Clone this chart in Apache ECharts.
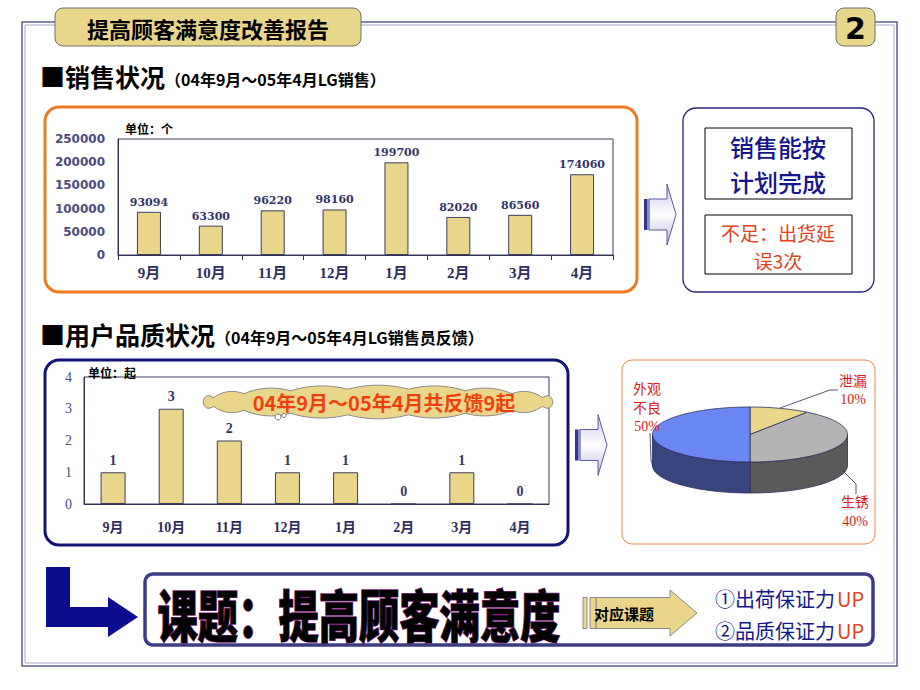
<!DOCTYPE html>
<html><head><meta charset="utf-8">
<script src="https://cdn.jsdelivr.net/npm/echarts@6/dist/echarts.min.js"></script>
<style>html,body{margin:0;padding:0;background:#fff;}#c{width:920px;height:690px;}</style>
</head><body><div id="c"></div>
<script>
// ---- data ----
const months = ['9月','10月','11月','12月','1月','2月','3月','4月'];
const salesValues = [93094, 63300, 96220, 98160, 199700, 82020, 86560, 174060];
const salesAxisMax = 250000, salesAxisStep = 50000;
const qualityValues = [1, 3, 2, 1, 1, 0, 1, 0];
const qualityAxisMax = 4, qualityAxisStep = 1;
const pieNames = ['泄漏', '生锈', '外观不良'];
const pieValues = [10, 40, 50];
const pieLabelText = ['泄漏\n10%', '生锈\n40%', '外观\n不良\n50%'];

// ---- styles ----
const CJK = '"Noto Sans CJK SC", sans-serif';
const SERIF = '"DejaVu Serif", "Noto Sans CJK SC", serif';
const TSERIF = '"Liberation Serif", "Noto Sans CJK SC", serif';
const barFill = '#ead68b', barEdge = '#3c3c5e';
const topColors = ['#ebd78c', '#b4b4b4', '#6b87f4'];
const sideColors = ['#c9b56a', '#5a5a5a', '#38447c'];

const chart = echarts.init(document.getElementById('c'), null, {renderer: 'svg', width: 920, height: 690});

function txt(x, y, text, font, fill, align, lh) {
  const st = {text: text, font: font, fill: fill, align: align || 'center', verticalAlign: 'middle'};
  if (lh) st.lineHeight = lh;
  return {type: 'text', x: x, y: y, z: 50, style: st};
}
function arrowShape(x0, x1, x2, yc, bh, hh) {
  return [[x0, yc - bh/2], [x1, yc - bh/2], [x1, yc - hh/2], [x2, yc], [x1, yc + hh/2], [x1, yc + bh/2], [x0, yc + bh/2]];
}
const arrowGrad = {type: 'linear', x: 0, y: 0, x2: 0, y2: 1, colorStops: [
  {offset: 0, color: '#c4c4ea'}, {offset: 0.5, color: '#ffffff'}, {offset: 1, color: '#bcbce2'}]};
function blueArrow(x0, yc) {
  return [
    {type: 'polygon', z: 20, shape: {points: arrowShape(x0 + 5, x0 + 23, x0 + 32, yc, 31, 61)},
      style: {fill: arrowGrad, stroke: '#5a5a9c', lineWidth: 1}},
    {type: 'rect', z: 21, shape: {x: x0, y: yc - 15.5, width: 3, height: 31}, style: {fill: '#34348e'}},
    {type: 'rect', z: 21, shape: {x: x0 + 3, y: yc - 15.5, width: 2.5, height: 31}, style: {fill: '#8a8ac8'}}
  ];
}
function cloudPoints(cx, cy, rx, ry, n, bump) {
  const pts = [];
  for (let i = 0; i < n; i++) { const t = i / n * 2 * Math.PI; pts.push([cx + rx * Math.cos(t), cy + ry * Math.sin(t)]); }
  const out = [];
  for (let i = 0; i < n; i++) {
    const p = pts[i], q = pts[(i + 1) % n];
    const tm = (i + 0.5) / n * 2 * Math.PI;
    let nx = Math.cos(tm) / rx, ny = Math.sin(tm) / ry; const L = Math.hypot(nx, ny); nx /= L; ny /= L;
    const c = [(p[0] + q[0]) / 2 + nx * bump, (p[1] + q[1]) / 2 + ny * bump];
    for (let s = 0; s < 10; s++) {
      const t = s / 10, u = 1 - t;
      out.push([u*u*p[0] + 2*u*t*c[0] + t*t*q[0], u*u*p[1] + 2*u*t*c[1] + t*t*q[1]]);
    }
  }
  return out;
}

function pieRender(params, api) {
  const cx = 750, cy = 434.5, rx = 97.5, ry = 27.5, depth = 31;
  const total = pieValues.reduce((a, b) => a + b, 0);
  const i = params.dataIndex;
  let before = 0; for (let k = 0; k < i; k++) before += pieValues[k];
  const v = api.value(0);
  const a1 = -Math.PI / 2 + before / total * Math.PI * 2;
  const a2 = a1 + v / total * Math.PI * 2;
  const P = (a, dy) => [cx + rx * Math.cos(a), cy + ry * Math.sin(a) + dy];
  const arc = (s, e, dy) => { const n = Math.max(2, Math.ceil((e - s) / 0.03)); const o = []; for (let j = 0; j <= n; j++) o.push(P(s + (e - s) * j / n, dy)); return o; };
  const children = [];
  const s1 = Math.max(a1, 0), s2 = Math.min(a2, Math.PI);
  if (s2 > s1) {
    children.push({type: 'polygon', shape: {points: arc(s1, s2, 0).concat(arc(s1, s2, depth).reverse())},
      style: {fill: sideColors[i], stroke: '#2c2c58', lineWidth: 0.8}});
  }
  children.push({type: 'polygon', shape: {points: [[cx, cy]].concat(arc(a1, a2, 0))},
    style: {fill: topColors[i], stroke: '#2c2c58', lineWidth: 0.8}});
  return {type: 'group', children: children};
}

const graphics = [
  // outer double frame
  {type: 'rect', z: 1, shape: {x: 22, y: 22, width: 875, height: 644}, style: {fill: 'none', stroke: '#5b5f98', lineWidth: 1.5}},
  {type: 'rect', z: 1, shape: {x: 25, y: 25, width: 869, height: 638}, style: {fill: 'none', stroke: '#a4a8d0', lineWidth: 1}},
  // title box
  {type: 'rect', z: 30, shape: {x: 55, y: 8, width: 306, height: 38, r: 8}, style: {fill: '#e8d68a', stroke: '#6e6e6e', lineWidth: 1}},
  txt(208, 28, '提高顾客满意度改善报告', 'bold 22px ' + CJK, '#000'),
  {type: 'rect', z: 30, shape: {x: 836, y: 8, width: 39, height: 38, r: 8}, style: {fill: '#e8d68a', stroke: '#6e6e6e', lineWidth: 1}},
  txt(855.5, 28, '2', 'bold 30px "DejaVu Sans", sans-serif', '#000'),
  // section headings
  txt(40, 76, '■销售状况', 'bold 25px ' + CJK, '#000', 'left'),
  txt(165, 79, '（04年9月～05年4月LG销售）', 'bold 16px ' + CJK, '#000', 'left'),
  txt(40, 334, '■用户品质状况', 'bold 25px ' + CJK, '#000', 'left'),
  txt(215, 337, '（04年9月～05年4月LG销售员反馈）', 'bold 16px ' + CJK, '#000', 'left'),
  // sales box
  {type: 'rect', z: 5, shape: {x: 45, y: 107, width: 592, height: 185, r: 14}, style: {fill: 'none', stroke: '#ee7a22', lineWidth: 3}},
  txt(125, 128, '单位：个', 'bold 12px ' + CJK, '#000', 'left'),
  // right conclusion box
  {type: 'rect', z: 5, shape: {x: 683, y: 108, width: 191, height: 184, r: 13}, style: {fill: 'none', stroke: '#24247a', lineWidth: 1.3}},
  {type: 'rect', z: 5, shape: {x: 705, y: 128, width: 147, height: 71}, style: {fill: 'none', stroke: '#000', lineWidth: 1}},
  txt(778, 146, '销售能按', '500 24px ' + CJK, '#16168c'),
  txt(778, 181.5, '计划完成', '500 24px ' + CJK, '#16168c'),
  {type: 'rect', z: 5, shape: {x: 705, y: 215, width: 147, height: 59}, style: {fill: 'none', stroke: '#000', lineWidth: 1}},
  txt(778, 232, '不足：出货延', '19px ' + CJK, '#e8401a'),
  txt(778, 260, '误3次', '19px ' + CJK, '#e8401a'),
  // quality box
  {type: 'rect', z: 5, shape: {x: 45, y: 360, width: 523, height: 185, r: 14}, style: {fill: 'none', stroke: '#141478', lineWidth: 3}},
  txt(88, 372, '单位：起', 'bold 12px ' + CJK, '#000', 'left'),
  // cloud
  {type: 'polygon', z: 40, shape: {points: cloudPoints(378, 402, 175, 13, 18, 8)}, style: {fill: '#ead68b', stroke: '#8a8a8a', lineWidth: 1}},
  txt(384, 402, '04年9月～05年4月共反馈9起', 'bold 20px ' + CJK, '#f0400f'),
  {type: 'circle', z: 41, shape: {cx: 278, cy: 417, r: 3}, style: {fill: '#fff', stroke: '#777', lineWidth: 1}},
  {type: 'circle', z: 41, shape: {cx: 284, cy: 415.5, r: 2}, style: {fill: '#fff', stroke: '#777', lineWidth: 1}},
  // pie box
  {type: 'rect', z: 5, shape: {x: 622, y: 360, width: 253, height: 184, r: 10}, style: {fill: 'none', stroke: '#e08e4e', lineWidth: 1}},
  txt(853, 390, pieLabelText[0], '14px ' + TSERIF, '#e01818', 'center', 18),
  txt(855, 512, pieLabelText[1], '14px ' + TSERIF, '#e01818', 'center', 19),
  txt(647, 408, pieLabelText[2], '14px ' + TSERIF, '#e01818', 'center', 18.5),
  {type: 'polyline', z: 45, shape: {points: [[780, 408], [830, 390], [838, 390]]}, style: {stroke: '#2c2c58', lineWidth: 0.8, fill: 'none'}},
  {type: 'polyline', z: 45, shape: {points: [[843, 471], [856, 484], [856, 494]]}, style: {stroke: '#2c2c58', lineWidth: 0.8, fill: 'none'}},
  {type: 'polyline', z: 45, shape: {points: [[650, 433], [651, 460], [653, 467]]}, style: {stroke: '#2c2c58', lineWidth: 0.8, fill: 'none'}},
  // bottom L arrow
  {type: 'polygon', z: 10, shape: {points: [[46, 567], [70, 567], [70, 607], [108, 607], [108, 597], [138, 617], [108, 637], [108, 627], [46, 627]]}, style: {fill: '#0c0c8e'}},
  // bottom box
  {type: 'rect', z: 5, shape: {x: 145, y: 574, width: 728, height: 71, r: 8}, style: {fill: 'none', stroke: '#3c3c84', lineWidth: 3.5}},
  {type: 'text', z: 50, x: 359, y: 612, scaleX: 0.72,
    style: {text: '课题：提高顾客满意度', font: '900 56px ' + CJK, fill: '#000', stroke: '#7a1f7a', lineWidth: 1.5,
      align: 'center', verticalAlign: 'middle'}},
  // small yellow arrow
  {type: 'polygon', z: 20, shape: {points: arrowShape(596, 670, 697, 613, 31, 46)}, style: {fill: '#ead68b', stroke: '#8a8a8a', lineWidth: 1}},
  {type: 'rect', z: 20, shape: {x: 583, y: 597.5, width: 4, height: 31}, style: {fill: '#ead68b', stroke: '#8a8a8a', lineWidth: 1}},
  {type: 'rect', z: 20, shape: {x: 590, y: 597.5, width: 6, height: 31}, style: {fill: '#ead68b', stroke: '#8a8a8a', lineWidth: 1}},
  txt(624, 613, '对应课题', 'bold 15px ' + CJK, '#000'),
  txt(715, 598, '①出荷保证力', '20px ' + CJK, '#16168c', 'left'),
  txt(837, 598, 'UP', '20px ' + CJK, '#e8401a', 'left'),
  txt(715, 630, '②品质保证力', '20px ' + CJK, '#16168c', 'left'),
  txt(837, 630, 'UP', '20px ' + CJK, '#e8401a', 'left')
].concat(blueArrow(644, 214.5), blueArrow(575, 445));

const axisLineStyle = {color: '#33335a', width: 1};
const plain = v => String(v);
const option = {
  animation: false,
  backgroundColor: '#ffffff',
  grid: [
    {left: 118, top: 139, width: 495, height: 116, show: true, borderColor: '#3d3d60', borderWidth: 1, backgroundColor: 'transparent'},
    {left: 84, top: 377, width: 465, height: 127, show: true, borderColor: '#3d3d60', borderWidth: 1, backgroundColor: 'transparent'}
  ],
  xAxis: [
    {type: 'category', gridIndex: 0, data: months, axisLine: {lineStyle: axisLineStyle},
      axisTick: {show: true, length: 5, lineStyle: axisLineStyle},
      axisLabel: {color: '#2e2e5e', fontFamily: TSERIF, fontWeight: 'bold', fontSize: 15, margin: 10}},
    {type: 'category', gridIndex: 1, data: months, axisLine: {lineStyle: axisLineStyle},
      axisTick: {show: false},
      axisLabel: {color: '#2e2e5e', fontFamily: TSERIF, fontWeight: 'bold', fontSize: 14, margin: 16}}
  ],
  yAxis: [
    {type: 'value', gridIndex: 0, min: 0, max: salesAxisMax, interval: salesAxisStep, splitLine: {show: false},
      axisLine: {show: true, lineStyle: axisLineStyle}, axisTick: {show: false},
      axisLabel: {formatter: plain, color: '#4b4b7e', fontFamily: '"DejaVu Sans", sans-serif', fontWeight: 'bold', fontSize: 12, margin: 13}},
    {type: 'value', gridIndex: 1, min: 0, max: qualityAxisMax, interval: qualityAxisStep, splitLine: {show: false},
      axisLine: {show: true, lineStyle: axisLineStyle}, axisTick: {show: false},
      axisLabel: {formatter: plain, color: '#4b4b7e', fontFamily: TSERIF, fontSize: 14, margin: 12}}
  ],
  series: [
    {type: 'bar', xAxisIndex: 0, yAxisIndex: 0, data: salesValues, barWidth: 24,
      itemStyle: {color: barFill, borderColor: barEdge, borderWidth: 1},
      label: {show: true, position: 'top', distance: 4, color: '#33336a', fontFamily: SERIF, fontWeight: 'bold', fontSize: 11}},
    {type: 'bar', xAxisIndex: 1, yAxisIndex: 1, data: qualityValues, barWidth: 25,
      itemStyle: {color: barFill, borderColor: barEdge, borderWidth: 1},
      label: {show: true, position: 'top', distance: 5, color: '#33336a', fontFamily: TSERIF, fontWeight: 'bold', fontSize: 14}},
    {type: 'custom', coordinateSystem: 'none', z: 10,
      data: pieValues.map((v, i) => ({name: pieNames[i], value: v})),
      renderItem: pieRender}
  ],
  graphic: graphics
};
chart.setOption(option);
</script>
</body></html>
